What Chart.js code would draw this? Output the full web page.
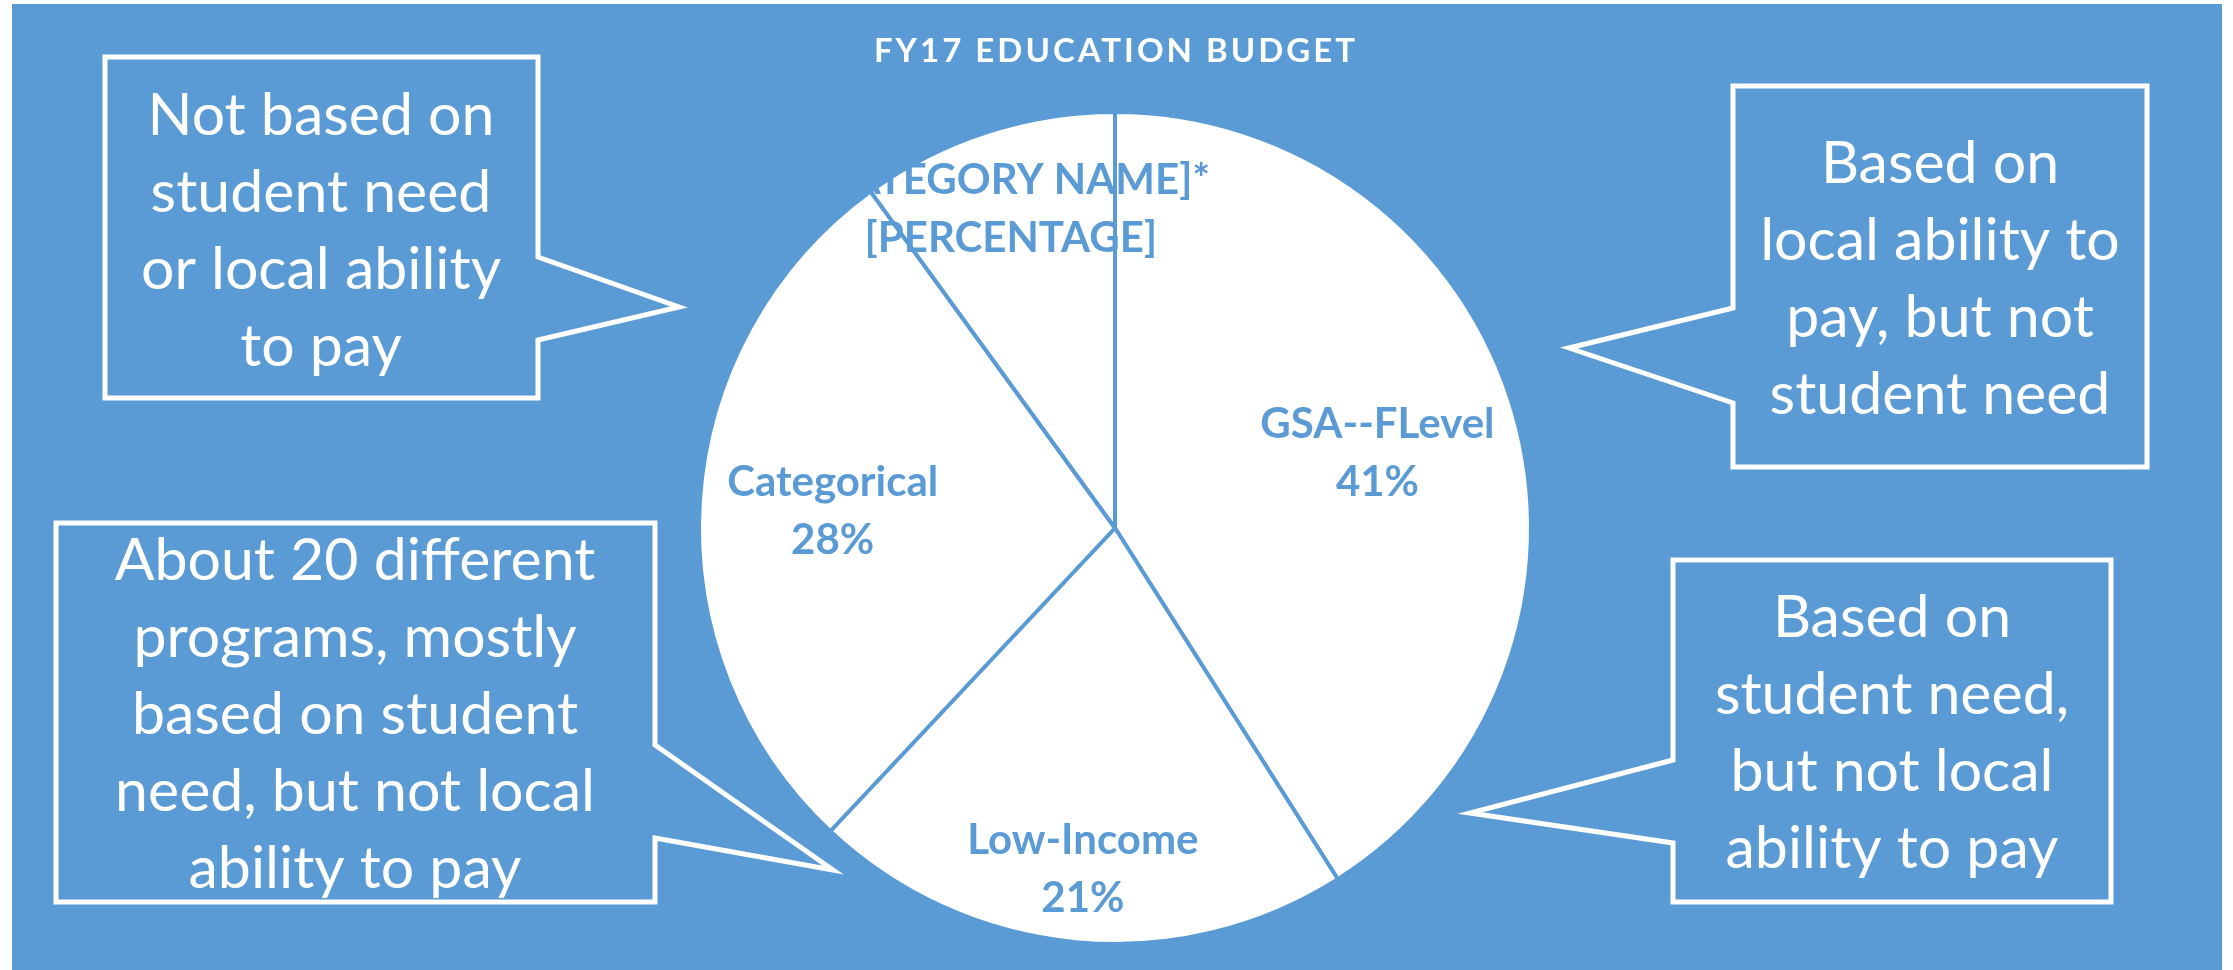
<!DOCTYPE html>
<html>
<head>
<meta charset="utf-8">
<title>FY17 Education Budget</title>
<script src="https://cdn.jsdelivr.net/npm/chart.js@4.4.1/dist/chart.umd.min.js"></script>
<style>
  html, body { margin: 0; padding: 0; background: #ffffff; }
  #chart { display: block; }
</style>
</head>
<body>
<canvas id="chart" width="2233" height="970"></canvas>
<script>
const categories = ['GSA--FLevel', 'Low-Income', 'Categorical', '[CATEGORY NAME]*'];
const shares = [41, 21, 28, 10];
// the last slice has a broken data label in the original
const percentOverrides = [null, null, null, '[PERCENTAGE]'];

const calloutTexts = [
    ['Not based on', 'student need', 'or local ability', 'to pay'],
    ['About 20 different', 'programs, mostly', 'based on student', 'need, but not local', 'ability to pay'],
    ['Based on', 'local ability to', 'pay, but not', 'student need'],
    ['Based on', 'student need,', 'but not local', 'ability to pay']
];

const BLUE = '#5B9BD5';
const FONT = 'Lato, "Open Sans", sans-serif';

// callout outlines (box with a pointer) and where their text sits
const callouts = [
    { path: [[105, 57], [538, 57], [538, 257], [679, 307], [538, 340], [538, 398], [105, 398]], cx: 321, y0: 135 },
    { path: [[56, 523], [655, 523], [655, 745], [833, 870], [655, 838], [655, 902], [56, 902]], cx: 355, y0: 580 },
    { path: [[1733, 86], [2147, 86], [2147, 467], [1733, 467], [1733, 403], [1569, 348], [1733, 308]], cx: 1940, y0: 183 },
    { path: [[1673, 560], [2111, 560], [2111, 902], [1673, 902], [1673, 843], [1470, 813], [1673, 760]], cx: 1892, y0: 637 }
];

// how far out (fraction of radius) each slice label sits
const labelRadius = [0.657, 0.82, 0.68, 0.81];

const backgroundPlugin = {
    id: 'background',
    beforeDraw(chart) {
        const ctx = chart.ctx;
        ctx.save();
        ctx.fillStyle = BLUE;
        ctx.fillRect(12, 4, 2210, 966);
        ctx.restore();
    }
};

const sliceLabelPlugin = {
    id: 'sliceLabels',
    afterDatasetsDraw(chart) {
        const ctx = chart.ctx;
        const meta = chart.getDatasetMeta(0);
        const values = chart.data.datasets[0].data;
        const total = values.reduce((a, b) => a + b, 0);
        ctx.save();
        ctx.fillStyle = BLUE;
        ctx.font = 'bold 42px ' + FONT;
        ctx.textAlign = 'center';
        ctx.textBaseline = 'alphabetic';
        meta.data.forEach((arc, i) => {
            const p = arc.getProps(['x', 'y', 'startAngle', 'endAngle', 'outerRadius'], true);
            const mid = (p.startAngle + p.endAngle) / 2;
            const r = p.outerRadius * labelRadius[i];
            const x = p.x + Math.cos(mid) * r;
            const y = p.y + Math.sin(mid) * r;
            const pct = percentOverrides[i] || Math.round(values[i] / total * 100) + '%';
            ctx.fillText(chart.data.labels[i], x, y - 14);
            ctx.fillText(pct, x, y + 44);
        });
        ctx.restore();
    }
};

const annotationPlugin = {
    id: 'annotations',
    afterDraw(chart) {
        const ctx = chart.ctx;
        ctx.save();
        // title
        ctx.fillStyle = '#ffffff';
        ctx.font = 'bold 33px ' + FONT;
        ctx.letterSpacing = '3px';
        ctx.textAlign = 'center';
        ctx.fillText('FY17 EDUCATION BUDGET', 1116, 62);
        ctx.letterSpacing = '0px';

        // callouts
        ctx.strokeStyle = '#ffffff';
        ctx.lineWidth = 5;
        ctx.lineJoin = 'miter';
        ctx.font = '59px ' + FONT;
        callouts.forEach((c, i) => {
            ctx.beginPath();
            c.path.forEach((pt, j) => j === 0 ? ctx.moveTo(pt[0], pt[1]) : ctx.lineTo(pt[0], pt[1]));
            ctx.closePath();
            ctx.stroke();
            calloutTexts[i].forEach((line, k) => {
                ctx.fillText(line, c.cx, c.y0 + k * 77);
            });
        });
        ctx.restore();
    }
};

new Chart(document.getElementById('chart'), {
    type: 'pie',
    data: {
        labels: categories,
        datasets: [{
            data: shares,
            backgroundColor: '#ffffff',
            borderColor: BLUE,
            borderWidth: 4
        }]
    },
    options: {
        responsive: false,
        animation: false,
        layout: { padding: { top: 110, bottom: 24, left: 600, right: 603 } },
        plugins: {
            legend: { display: false },
            tooltip: { enabled: false },
            title: { display: false }
        }
    },
    plugins: [backgroundPlugin, sliceLabelPlugin, annotationPlugin]
});
</script>
</body>
</html>
